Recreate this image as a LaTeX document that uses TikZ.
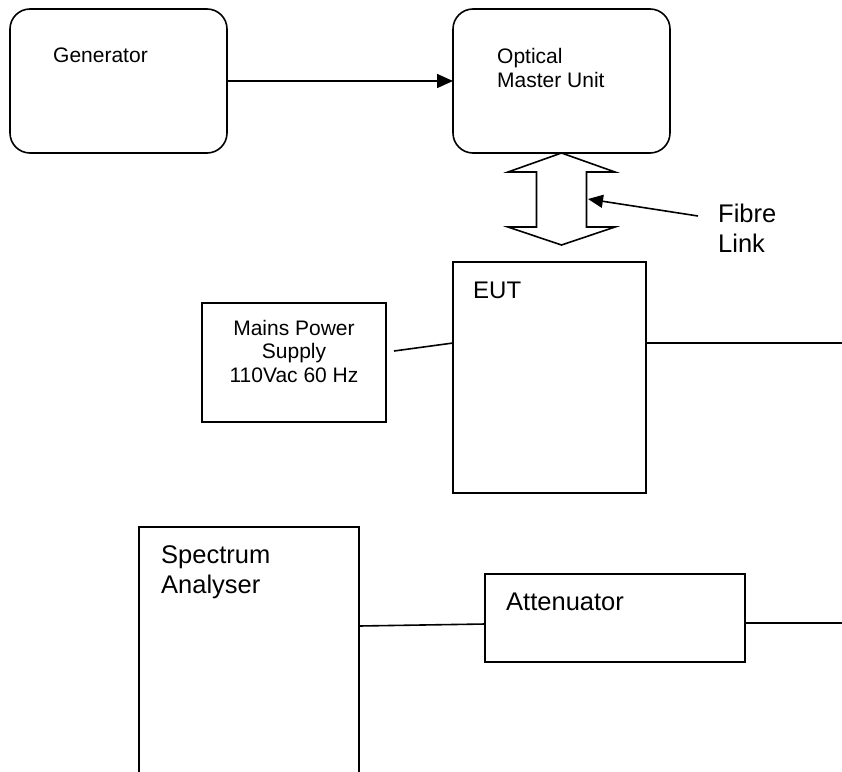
\documentclass[tikz,border=0pt]{standalone}
\usepackage{fontspec}
\setmainfont{Liberation Sans}
\usetikzlibrary{arrows.meta}
\begin{document}
\begin{tikzpicture}[x=1pt,y=-1pt,
  box/.style={draw, line width=1.6pt, inner sep=0pt, outer sep=0pt, anchor=north west},
  rbox/.style={box, rounded corners=20pt},
  txt/.style={inner sep=0pt, anchor=base west},
  ctxt/.style={inner sep=0pt, anchor=base},
  small/.style={font=\fontsize{21}{24}\selectfont},
  large/.style={font=\fontsize{25.5}{30}\selectfont},
  conn/.style={line width=1.6pt},
  tip/.style={-{Triangle[length=16pt,width=14pt]}}
]
\useasboundingbox (0,0) rectangle (842,771);
\clip (0,0) rectangle (842,771);

% top row
\node[rbox, minimum width=217pt, minimum height=144pt] (gen) at (10,9) {};
\node[rbox, minimum width=217pt, minimum height=144pt] (omu) at (453,9) {};
\node[txt, small] (genT) at (53,62) {Generator};
\node[txt, small] (omuT1) at (497,63) {Optical};
\node[txt, small] (omuT2) at (497,87) {Master Unit};
\draw[conn, tip] (gen) -- (omu);

% fibre link double arrow
\draw[conn, line join=miter] (omu.south) -- ++(53.5,19) -- ++(-28.5,0) -- ++(0,55)
  -- ++(28.5,0) -- ++(-53.5,18) -- ++(-53.5,-18) -- ++(28.5,0) -- ++(0,-55)
  -- ++(-28.5,0) -- cycle;
\coordinate (fibreTail) at (698,216);
\coordinate (fibreHead) at (588,199);
\draw[conn, -{Triangle[length=15pt,width=13pt]}] (fibreTail) -- (fibreHead);
\node[txt, large] (fibreT1) at (718,222) {Fibre};
\node[txt, large] (fibreT2) at (718,252) {Link};

% EUT and mains
\node[box, minimum width=193pt, minimum height=231pt] (eut) at (453,262) {};
\node[txt, font=\fontsize{24}{28}\selectfont] (eutT) at (473,298) {EUT};
\node[box, minimum width=184pt, minimum height=119pt] (mains) at (202,303) {};
\node[ctxt, small] (mainsT1) at (294,335) {Mains Power};
\node[ctxt, small] (mainsT2) at (294,358.5) {Supply};
\node[ctxt, small] (mainsT3) at (294,382) {110Vac 60 Hz};
\coordinate (mainsEnd) at (394,351);
\draw[conn] (mainsEnd) -- ([yshift=-81pt]eut.north west);
\coordinate (eutOut) at (842,343);
\draw[conn] ([yshift=-81pt]eut.north east) -- (eutOut);

% bottom row
\node[box, minimum width=220pt, minimum height=280pt] (sa) at (139,527) {};
\node[txt, large] (saT1) at (161,563) {Spectrum};
\node[txt, large] (saT2) at (161,593) {Analyser};
\node[box, minimum width=260pt, minimum height=88pt] (att) at (485,574) {};
\node[txt, large] (attT) at (506,610) {Attenuator};
\draw[conn] ([yshift=-99pt]sa.north east) -- ([yshift=-50pt]att.north west);
\coordinate (attOut) at (842,623);
\draw[conn] ([yshift=-49pt]att.north east) -- (attOut);
\end{tikzpicture}
\end{document}
